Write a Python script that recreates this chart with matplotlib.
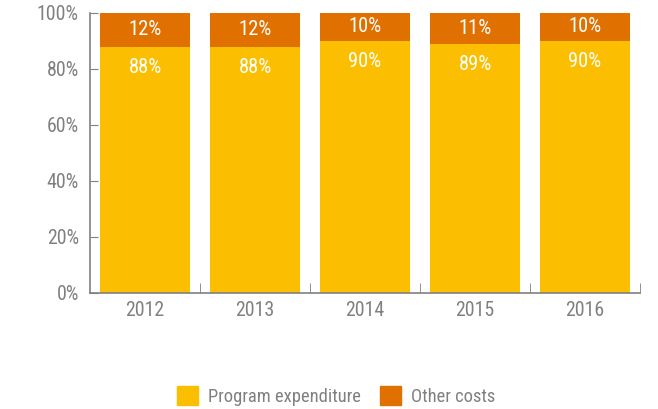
import matplotlib
matplotlib.use("Agg")
import matplotlib.pyplot as plt
from matplotlib import font_manager
from matplotlib.patches import Patch

years = ["2012", "2013", "2014", "2015", "2016"]
program = [88, 88, 90, 89, 90]
other = [12, 12, 10, 11, 10]

yellow = "#FBBE00"
orange = "#E07000"
grey = "#808080"

names = {f.name for f in font_manager.fontManager.ttflist}
family = "Roboto"
for cand in ["Roboto Condensed", "Liberation Sans Narrow", "Arial Narrow"]:
    if cand in names:
        family = cand
        break
plt.rcParams["font.family"] = family
scale = 1.0 if family != "Roboto" else 0.9

fig = plt.figure(figsize=(6.58, 4.09), dpi=100)
ax = fig.add_axes([90 / 658, 1 - 293 / 409, 550 / 658, 280 / 409])

x = list(range(len(years)))
ax.bar(x, program, width=0.82, color=yellow, label="Program expenditure")
ax.bar(x, other, width=0.82, bottom=program, color=orange, label="Other costs")

for i in x:
    ax.text(i, program[i] + other[i] / 2, f"{other[i]}%", ha="center", va="center",
            color="white", fontsize=14.8 * scale)
    ax.text(i, program[i] - 7.3, f"{program[i]}%", ha="center", va="center",
            color="white", fontsize=14.8 * scale)

ax.set_xlim(-0.5, len(years) - 0.5)
ax.set_ylim(0, 100)
ax.set_yticks(range(0, 101, 20))
ax.set_yticklabels([f"{v}%" for v in range(0, 101, 20)])
ax.set_xticks(x)
ax.set_xticklabels(years)
ax.set_xticks([i + 0.5 for i in x], minor=True)

for s in ["top", "right"]:
    ax.spines[s].set_visible(False)
for s in ["left", "bottom"]:
    ax.spines[s].set_color(grey)
    ax.spines[s].set_linewidth(1.2)

ax.tick_params(axis="y", direction="in", length=6, color=grey, labelcolor=grey,
               labelsize=14.3 * scale, pad=8)
ax.tick_params(axis="x", which="major", length=0, labelcolor=grey,
               labelsize=14.3 * scale, pad=6)
ax.tick_params(axis="x", which="minor", direction="in", length=7, color=grey)

handles = [Patch(color=yellow, label="Program expenditure"),
           Patch(color=orange, label="Other costs")]
fig.legend(handles=handles, loc="center", bbox_to_anchor=(336 / 658, 1 - 396 / 409),
           ncol=2, frameon=False, fontsize=13.3 * scale, labelcolor=grey,
           handlelength=1.15, handleheight=1.15, handletextpad=0.55, columnspacing=1.0)

fig.savefig("out.png", dpi=100)
